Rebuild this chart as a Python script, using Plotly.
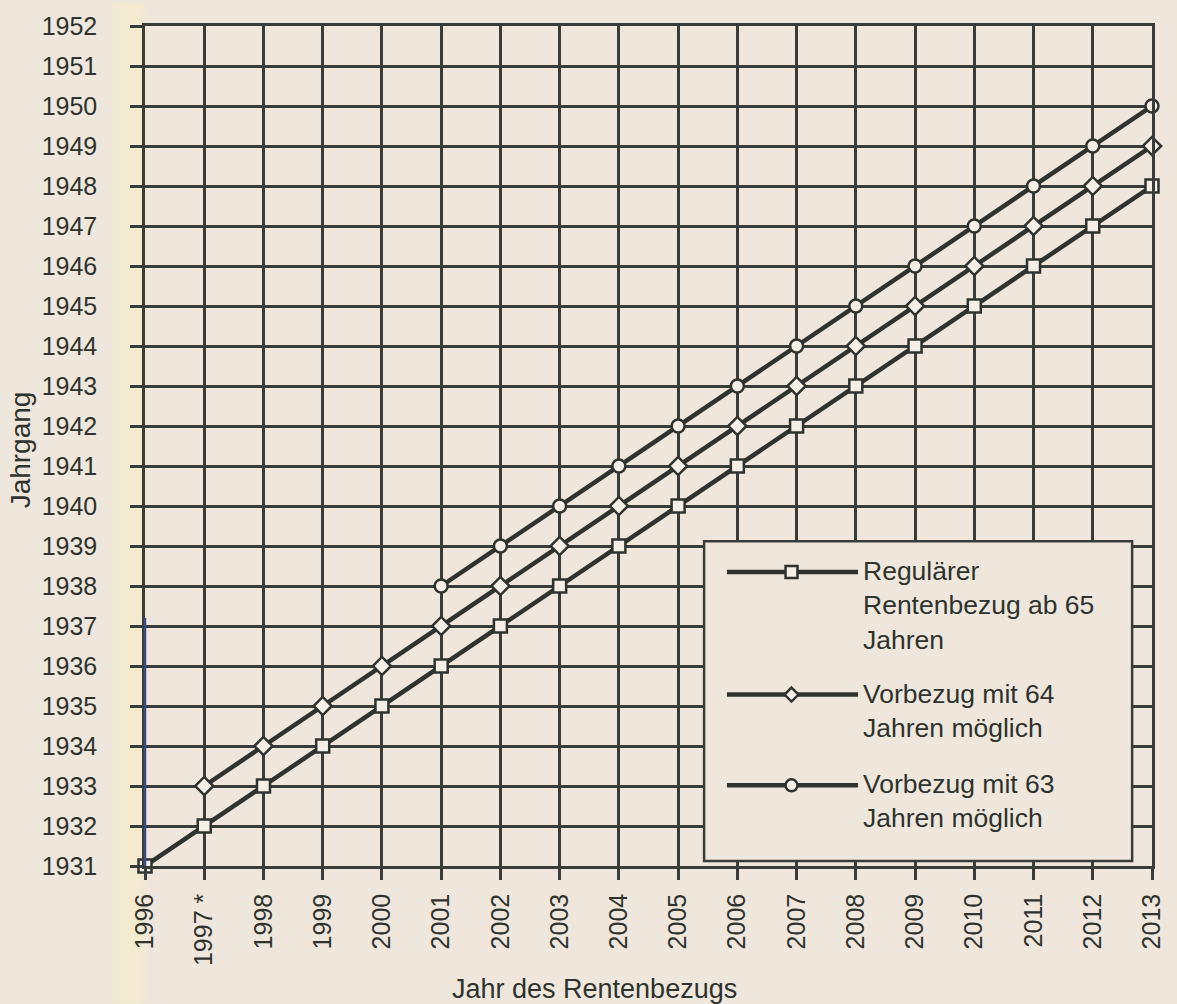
import plotly.graph_objects as go

# ---- data ----
years = [1996, 1997, 1998, 1999, 2000, 2001, 2002, 2003, 2004, 2005, 2006,
         2007, 2008, 2009, 2010, 2011, 2012, 2013]
regular_65 = [1931, 1932, 1933, 1934, 1935, 1936, 1937, 1938, 1939, 1940, 1941,
              1942, 1943, 1944, 1945, 1946, 1947, 1948]
years_64 = [1997, 1998, 1999, 2000, 2001, 2002, 2003, 2004, 2005, 2006,
            2007, 2008, 2009, 2010, 2011, 2012, 2013]
vorbezug_64 = [1933, 1934, 1935, 1936, 1937, 1938, 1939, 1940, 1941, 1942,
               1943, 1944, 1945, 1946, 1947, 1948, 1949]
years_63 = [2001, 2002, 2003, 2004, 2005, 2006, 2007, 2008, 2009, 2010,
            2011, 2012, 2013]
vorbezug_63 = [1938, 1939, 1940, 1941, 1942, 1943, 1944, 1945, 1946, 1947,
               1948, 1949, 1950]
x_ticktext = ["1996", "1997 *", "1998", "1999", "2000", "2001", "2002", "2003",
              "2004", "2005", "2006", "2007", "2008", "2009", "2010", "2011",
              "2012", "2013"]
y_ticks = list(range(1931, 1953))
legend_labels = ["Regulärer<br>Rentenbezug ab 65<br>Jahren",
                 "Vorbezug mit 64<br>Jahren möglich",
                 "Vorbezug mit 63<br>Jahren möglich"]

# ---- style ----
W, H = 1177, 1004
PL, PR, PT, PB = 145, 1159, 23, 866
BG = "#efe7db"
INK = "#2e332f"
GRID = "#383d39"
FILL = "#f5f0e7"
FONT = "Liberation Sans, Arial, sans-serif"


def px(x):
    return (x - PL) / (PR - PL)


def py(y):
    return (PB - y) / (PB - PT)


fig = go.Figure()

line_style = dict(color=INK, width=4.5)
marker_common = dict(size=13, color=FILL, line=dict(color=INK, width=2.5))

fig.add_trace(go.Scatter(x=years, y=regular_65, mode="lines+markers",
                         line=line_style, cliponaxis=False,
                         marker=dict(symbol="square", **marker_common),
                         showlegend=False))
fig.add_trace(go.Scatter(x=years_64, y=vorbezug_64, mode="lines+markers",
                         line=line_style, cliponaxis=False,
                         marker=dict(symbol="diamond", size=14, color=FILL,
                                     line=dict(color=INK, width=2.5)),
                         showlegend=False))
fig.add_trace(go.Scatter(x=years_63, y=vorbezug_63, mode="lines+markers",
                         line=line_style, cliponaxis=False,
                         marker=dict(symbol="circle", **marker_common),
                         showlegend=False))

shapes = []
annotations = []

# faint yellow strip at left (scan)
shapes.append(dict(type="rect", xref="paper", yref="paper", layer="below",
                   x0=px(112), x1=px(146), y0=py(1004), y1=py(0),
                   fillcolor="#f3ebcf", opacity=0.6, line=dict(width=0)))
shapes.append(dict(type="rect", xref="paper", yref="paper", layer="below",
                   x0=px(120), x1=px(140), y0=py(1004), y1=py(0),
                   fillcolor="#f4eccc", opacity=0.5, line=dict(width=0)))

# bluish lower part of the y axis (scan)
shapes.append(dict(type="line", xref="paper", yref="y",
                   x0=0, x1=0, y0=1931, y1=1937.2,
                   line=dict(color="#3d4a86", width=2.5)))

# manual legend box
shapes.append(dict(type="rect", xref="paper", yref="paper",
                   x0=px(708), x1=px(1139), y0=py(861), y1=py(540),
                   fillcolor=BG, line=dict(color=GRID, width=2.5)))

legend_line_y = [571, 694, 785]
mx = 796
for i, ly in enumerate(legend_line_y):
    shapes.append(dict(type="line", xref="paper", yref="paper",
                       x0=px(731), x1=px(863), y0=py(ly), y1=py(ly),
                       line=dict(color=INK, width=4.5)))
    s = 6
    if i == 0:
        shapes.append(dict(type="rect", xref="paper", yref="paper",
                           x0=px(mx - s), x1=px(mx + s), y0=py(ly + s), y1=py(ly - s),
                           fillcolor=FILL, line=dict(color=INK, width=2.5)))
    elif i == 1:
        d = 7
        path = (f"M {px(mx)} {py(ly - d)} L {px(mx + d)} {py(ly)} "
                f"L {px(mx)} {py(ly + d)} L {px(mx - d)} {py(ly)} Z")
        shapes.append(dict(type="path", xref="paper", yref="paper", path=path,
                           fillcolor=FILL, line=dict(color=INK, width=2.5)))
    else:
        shapes.append(dict(type="circle", xref="paper", yref="paper",
                           x0=px(mx - s), x1=px(mx + s), y0=py(ly + s), y1=py(ly - s),
                           fillcolor=FILL, line=dict(color=INK, width=2.5)))
    annotations.append(dict(xref="paper", yref="paper", x=px(866), y=py(ly - 18),
                            xanchor="left", yanchor="top", align="left",
                            showarrow=False, text=legend_labels[i],
                            font=dict(family=FONT, size=26.5, color=INK)))

# axis titles
annotations.append(dict(xref="paper", yref="paper", x=px(598), y=py(989),
                        xanchor="center", yanchor="middle", showarrow=False,
                        text="Jahr des Rentenbezugs",
                        font=dict(family=FONT, size=27, color=INK)))
annotations.append(dict(xref="paper", yref="paper", x=px(20), y=py(448),
                        xanchor="center", yanchor="middle", showarrow=False,
                        textangle=-90, text="Jahrgang",
                        font=dict(family=FONT, size=28, color=INK)))

fig.update_layout(
    width=W, height=H,
    margin=dict(l=PL, r=W - PR, t=PT, b=H - PB),
    paper_bgcolor=BG, plot_bgcolor=BG,
    font=dict(family=FONT, size=25, color=INK),
    shapes=shapes, annotations=annotations,
    showlegend=False,
)
fig.update_xaxes(range=[1996, 2013], tickmode="array", tickvals=years,
                 ticktext=x_ticktext, tickangle=-90,
                 showgrid=True, gridcolor=GRID, gridwidth=2.5,
                 showline=True, linecolor=GRID, linewidth=2.5, mirror=True,
                 ticks="outside", ticklen=11, tickwidth=2.5, tickcolor=GRID,
                 ticklabelstandoff=4, zeroline=False,
                 tickfont=dict(family=FONT, size=25, color=INK))
fig.update_yaxes(range=[1931, 1952], tickmode="array", tickvals=y_ticks,
                 showgrid=True, gridcolor=GRID, gridwidth=2.5,
                 showline=True, linecolor=GRID, linewidth=2.5, mirror=True,
                 ticks="outside", ticklen=12, tickwidth=2.5, tickcolor=GRID,
                 ticklabelstandoff=28, zeroline=False,
                 tickfont=dict(family=FONT, size=25, color=INK))

fig.write_html(
    "out.html",
    config={"displayModeBar": False},
    post_script=("document.body.style.margin='0';"
                 "document.body.style.background='" + BG + "';"
                 "document.body.style.overflow='hidden';"),
)
